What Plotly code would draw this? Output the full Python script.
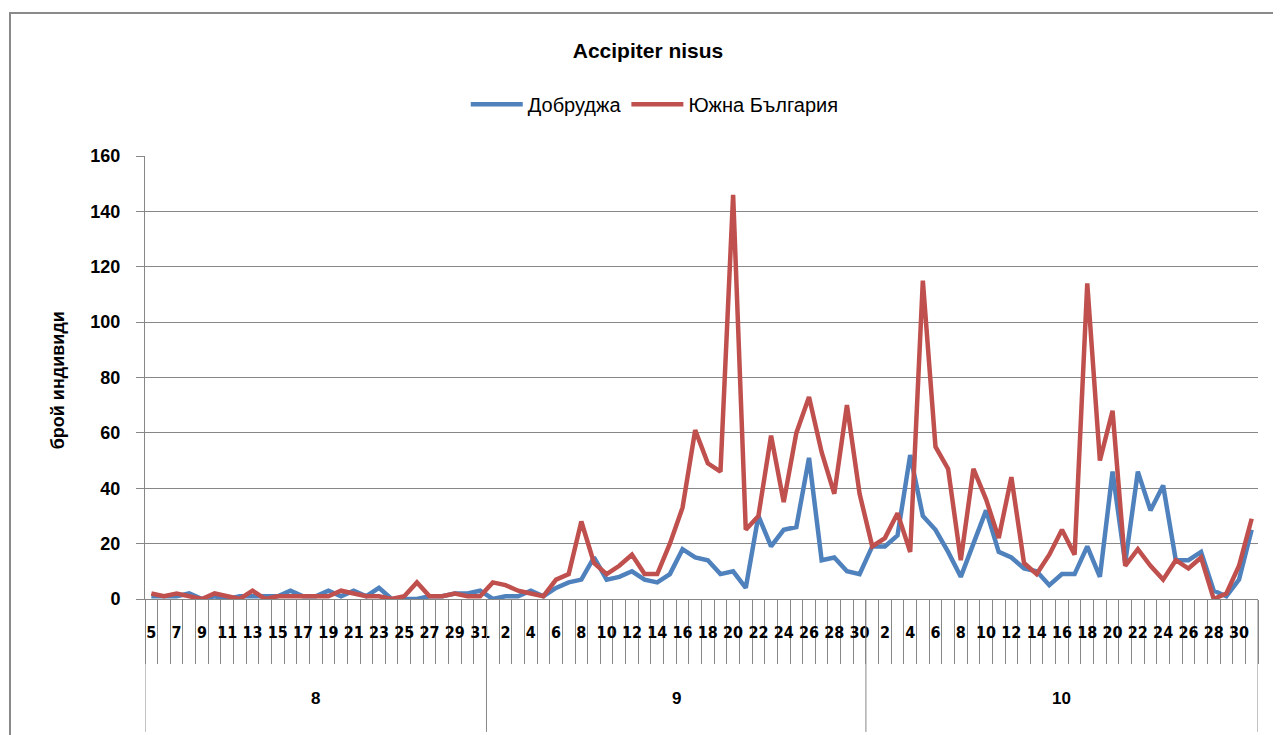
"""Accipiter nisus - daily counts, Dobrudzha vs South Bulgaria."""

import plotly.graph_objects as go

# categories: month -> days observed
month_names = ["8", "9", "10"]
month_days = [list(range(5, 32)), list(range(1, 31)), list(range(1, 32))]

# series values (one per day, in the order above)
dobrudzha = [
    1, 1, 1, 2, 0, 1, 0, 1, 1, 1, 1, 3, 1, 1, 3, 1, 3, 1, 4, 0, 0, 0, 1, 1, 2, 2, 3,
    0, 1, 1, 3, 1, 4, 6, 7, 15, 7, 8, 10, 7, 6, 9, 18, 15, 14, 9, 10, 4, 30, 19, 25,
    26, 51, 14, 15, 10, 9,
    19, 19, 23, 52, 30, 25, 17, 8, 20, 32, 17, 15, 11, 10, 5, 9, 9, 19, 8, 46, 13, 46,
    32, 41, 14, 14, 17, 3, 1, 7, 25,
]
south_bulgaria = [
    2, 1, 2, 1, 0, 2, 1, 0, 3, 0, 1, 1, 1, 1, 1, 3, 2, 1, 1, 0, 1, 6, 1, 1, 2, 1, 1,
    6, 5, 3, 2, 1, 7, 9, 28, 13, 9, 12, 16, 9, 9, 20, 33, 61, 49, 46, 146, 25, 30, 59,
    35, 60, 73, 53, 38, 70, 38,
    19, 22, 31, 17, 115, 55, 47, 14, 47, 36, 22, 44, 13, 9, 16, 25, 16, 114, 50, 68, 12,
    18, 12, 7, 14, 11, 15, 0, 2, 12, 29,
]

y_ticks = [0, 20, 40, 60, 80, 100, 120, 140, 160]

FONT = "Liberation Sans, Arial, sans-serif"
NARROW = "Liberation Sans Narrow, DejaVu Sans Condensed, Liberation Sans, sans-serif"
GRID = "#878787"

# flatten categories to one running index
day_labels = [d for days in month_days for d in days]
idx = list(range(len(day_labels)))

fig = go.Figure()
fig.add_trace(go.Scatter(
    x=idx, y=dobrudzha, name="Добруджа", mode="lines",
    line=dict(color="#4F81BD", width=4.5),
))
fig.add_trace(go.Scatter(
    x=idx, y=south_bulgaria, name="Южна България", mode="lines",
    line=dict(color="#C0504D", width=4.5),
))

# every other day gets a label, like the original axis
tick_idx = idx[::2]
tick_txt = [str(day_labels[i]) for i in tick_idx]

# month group separators + labels under the day labels
shapes = []
annotations = []
start = 0
bounds = [-0.5]
for name, days in zip(month_names, month_days):
    end = start + len(days)
    bounds.append(end - 0.5)
    annotations.append(dict(
        x=(start + end - 1) / 2, y=-0.2235, xref="x", yref="paper",
        text=name, showarrow=False, yanchor="middle",
        font=dict(family=FONT, size=17, color="#000", weight="bold"),
    ))
    start = end
for b in bounds:
    shapes.append(dict(
        type="line", xref="x", yref="paper", x0=b, x1=b, y0=0, y1=-0.3,
        line=dict(color=GRID, width=1),
    ))

# outer chart frame
shapes.append(dict(
    type="rect", xref="paper", yref="paper",
    x0=-0.1213, x1=1.05, y0=-0.5, y1=1.3228,
    line=dict(color="#8a8a8a", width=2), layer="below",
))

# y axis title placed by hand
annotations.append(dict(
    x=-0.078, y=0.494, xref="paper", yref="paper", text="брой индивиди",
    textangle=-90, showarrow=False, xanchor="center", yanchor="middle",
    font=dict(family=FONT, size=18, color="#000", weight="bold"),
))

# page body has an 8px margin, so margins are shifted to land the plot
# area where the original one is
fig.update_layout(
    width=1281, height=735,
    margin=dict(l=137, r=31, t=148, b=144),
    paper_bgcolor="white", plot_bgcolor="white",
    font=dict(family=FONT, color="#000"),
    title=dict(
        text="Accipiter nisus", x=640 / 1281, xanchor="center",
        y=1 - 43 / 735, yanchor="middle",
        font=dict(family=FONT, size=21, color="#000", weight="bold"),
    ),
    legend=dict(
        orientation="h", x=0.458, xanchor="center", y=1.117, yanchor="middle",
        font=dict(family=FONT, size=20, color="#000"),
        bgcolor="rgba(0,0,0,0)",
        itemwidth=52,
    ),
    shapes=shapes,
    annotations=annotations,
    showlegend=True,
)

fig.update_xaxes(
    range=[-0.5, len(idx) - 0.5],
    tickmode="array", tickvals=tick_idx, ticktext=tick_txt,
    ticks="", ticklabelstandoff=19,
    tickfont=dict(family=NARROW, size=16, color="#000", weight="bold"),
    minor=dict(tickmode="linear", tick0=-0.5, dtick=1, ticks="outside",
               ticklen=64, tickcolor=GRID, tickwidth=1, showgrid=False),
    showgrid=False, zeroline=False,
    showline=True, linecolor=GRID, linewidth=1,
)
fig.update_yaxes(
    range=[0, 160], tickmode="array", tickvals=y_ticks,
    ticks="outside", ticklen=8, tickcolor=GRID, ticklabelstandoff=12,
    tickfont=dict(family=FONT, size=18, color="#000", weight="bold"),
    showgrid=True, gridcolor=GRID, gridwidth=1, zeroline=False,
    showline=True, linecolor=GRID, linewidth=1,
)

fig.write_html("out.html")
